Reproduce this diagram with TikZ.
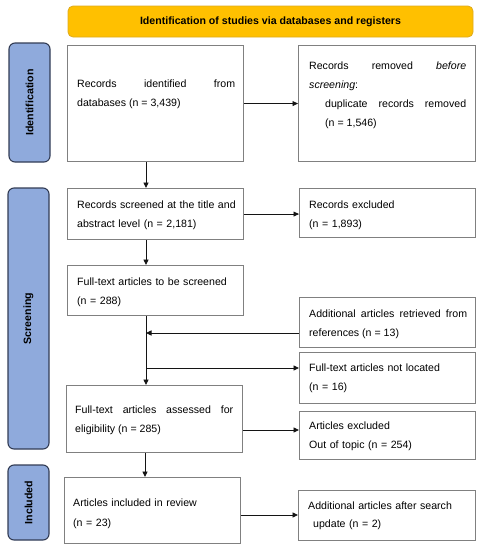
\documentclass[tikz,border=0pt]{standalone}
\usepackage{fontspec}
\setmainfont{Liberation Sans}
\usetikzlibrary{arrows.meta,calc}
\definecolor{boxgray}{RGB}{128,128,128}
\definecolor{banner}{RGB}{255,192,0}
\definecolor{bannerline}{RGB}{222,170,30}
\definecolor{sidefill}{RGB}{143,170,220}
\definecolor{sideline}{RGB}{50,60,85}
\definecolor{arrowc}{RGB}{20,20,20}
\begin{document}
\begin{tikzpicture}[x=1pt,y=-1pt,
  font=\fontsize{10.6}{19}\selectfont,
  box/.style={draw=boxgray, line width=1.1pt, inner sep=0pt, anchor=north west},
  txt/.style={inner sep=0pt, anchor=north west, align=left},
  jtxt/.style={inner sep=0pt, anchor=north west, align=justify},
  side/.style={draw=sideline, fill=sidefill, line width=1.1pt, rounded corners=6pt,
    rotate=90, inner sep=0pt, minimum height=41pt, font=\fontsize{10.6}{13}\selectfont\bfseries},
  arr/.style={draw=arrowc, line width=0.9pt, -{Triangle[length=5.5pt,width=5pt]}},
  ln/.style={draw=arrowc, line width=0.9pt}
]
\useasboundingbox (0,0) rectangle (483,550);

% banner
\node[draw=bannerline, fill=banner, line width=0.8pt, rounded corners=5pt,
  minimum width=405pt, minimum height=31pt, inner sep=0pt,
  font=\fontsize{10.6}{13}\selectfont\bfseries] (ban) at (270.5,21.5)
  {Identification of studies via databases and registers};

% side labels
\node[side, minimum width=119pt] (s1) at (29.5,102.5) {Identification};
\node[side, minimum width=261pt] (s2) at (28.5,318.5) {Screening};
\node[side, minimum width=75pt] (s3) at (28.5,502.5) {Included};

% boxes
\node[box, minimum width=176pt, minimum height=116pt] (b1) at (67,45) {};
\node[box, minimum width=177pt, minimum height=116pt] (b2) at (298,45) {};
\node[box, minimum width=176pt, minimum height=51pt] (b3) at (67,188) {};
\node[box, minimum width=176pt, minimum height=49pt] (b4) at (299,188) {};
\node[box, minimum width=176pt, minimum height=50pt] (b5) at (67,265) {};
\node[box, minimum width=176pt, minimum height=50pt] (b6) at (299,297) {};
\node[box, minimum width=176pt, minimum height=51pt] (b7) at (299,352) {};
\node[box, minimum width=176pt, minimum height=67pt] (b8) at (66,385) {};
\node[box, minimum width=176pt, minimum height=48pt] (b9) at (299,411) {};
\node[box, minimum width=176pt, minimum height=66pt] (b10) at (64,477) {};
\node[box, minimum width=177pt, minimum height=50pt] (b11) at (298,490) {};

% texts
\node[jtxt, text width=158pt] (t1) at (77,73.7)
  {\strut Records identified from\linebreak databases (n = 3,439)};
\node[jtxt, text width=157pt] (t2) at (309,55.7)
  {\strut Records removed \textit{before}\linebreak \textit{screening}:\par
   {\leftskip=16pt duplicate records removed\linebreak (n = 1,546)\par}};
\node[txt, text width=165pt] (t3) at (77,194.7)
  {\strut Records screened at the title and\\abstract level (n = 2,181)};
\node[txt, text width=160pt] (t4) at (309,194.7)
  {\strut Records excluded\\(n = 1,893)};
\node[txt, text width=160pt] (t5) at (77,271.7)
  {\strut Full-text articles to be screened\\(n = 288)};
\node[jtxt, text width=158pt] (t6) at (309,303.7)
  {\strut Additional articles retrieved from\linebreak references (n = 13)};
\node[txt, text width=160pt] (t7) at (309,357.7)
  {\strut Full-text articles not located\\(n = 16)};
\node[jtxt, text width=158pt] (t8) at (75,399.7)
  {\strut Full-text articles assessed for\linebreak eligibility (n = 285)};
\node[txt, text width=160pt] (t9) at (309,415.7)
  {\strut Articles excluded\\Out of topic (n = 254)};
\node[txt, text width=160pt, font=\fontsize{10.6}{20.5}\selectfont] (t10) at (73,491.7)
  {\strut Articles included in review\\(n = 23)};
\node[txt, text width=165pt, font=\fontsize{10.6}{18}\selectfont] (t11) at (308,496.7)
  {\strut Additional articles after search\\\hspace*{5pt}update (n = 2)};

% helper coordinates
\coordinate (cx) at (146,0);
\coordinate (j1) at (146,333);
\coordinate (j2) at (146,368);
\coordinate (y8) at (0,430);
\coordinate (y10) at (0,515);

% connectors
\draw[arr] (b1.east) -- (b1.east -| b2.west);
\draw[arr] (b1.south -| cx) -- (b3.north -| cx);
\draw[arr] (b3.east) -- (b3.east -| b4.west);
\draw[arr] (b3.south -| cx) -- (b5.north -| cx);
\draw[ln] (b5.south -| cx) -- (j1);
\draw[arr] (j1 -| b6.west) -- (j1);
\draw[arr] (j1) -- (b8.north -| cx);
\draw[arr] (j2) -- (j2 -| b7.west);
\draw[arr] (y8 -| b8.east) -- (y8 -| b9.west);
\draw[arr] (b8.south -| 145,0) -- (b10.north -| 145,0);
\draw[arr] (y10 -| b10.east) -- (y10 -| b11.west);
\end{tikzpicture}
\end{document}
